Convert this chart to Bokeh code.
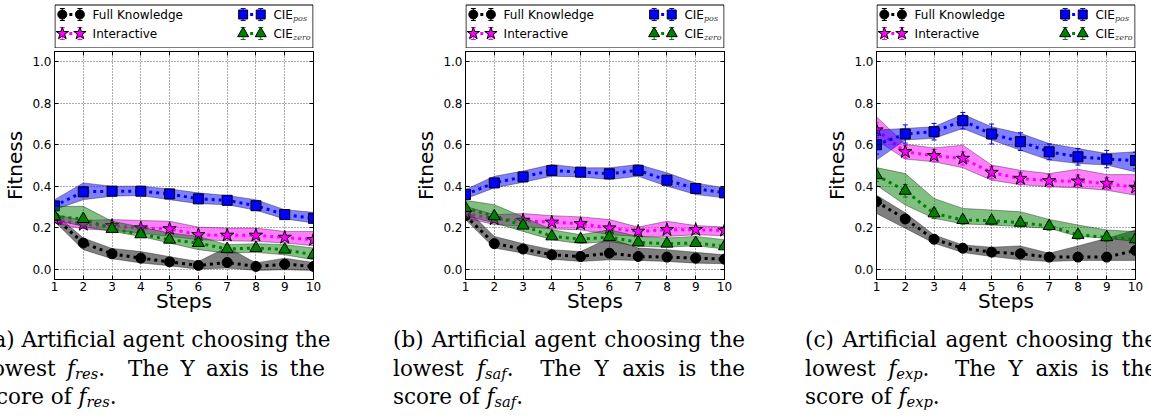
from bokeh.plotting import figure
from bokeh.layouts import row, column
from bokeh.models import (Range1d, FixedTicker, PrintfTickFormatter, LinearAxis,
                          Div, ColumnDataSource)
from bokeh.core.properties import value
from bokeh.embed import file_html
from bokeh.resources import INLINE

# ---------------- data ----------------
steps = [1, 2, 3, 4, 5, 6, 7, 8, 9, 10]
y_ticks = [0.0, 0.2, 0.4, 0.6, 0.8, 1.0]

series_names = ["Full Knowledge", "Interactive", "CIE", "CIE"]
series_subs = ["", "", "pos", "zero"]
series_colors = ["#000000", "#ff00ff", "#0000ff", "#008000"]
series_markers = ["circle", "star", "square", "triangle"]

# (a) lowest f_res
a_full = [0.25, 0.126, 0.074, 0.053, 0.035, 0.018, 0.032, 0.013, 0.024, 0.013]
a_full_lo = [0.23, 0.094, 0.05, 0.03, 0.016, 0.0, 0.005, -0.006, -0.003, -0.006]
a_full_hi = [0.27, 0.15, 0.10, 0.085, 0.06, 0.037, 0.106, 0.03, 0.053, 0.032]
a_int = [0.241, 0.215, 0.21, 0.198, 0.194, 0.166, 0.163, 0.163, 0.153, 0.142]
a_int_lo = [0.223, 0.194, 0.187, 0.174, 0.158, 0.142, 0.137, 0.134, 0.126, 0.113]
a_int_hi = [0.263, 0.235, 0.239, 0.235, 0.231, 0.203, 0.198, 0.198, 0.182, 0.182]
a_pos = [0.305, 0.373, 0.376, 0.376, 0.363, 0.339, 0.332, 0.306, 0.263, 0.245]
a_pos_lo = [0.287, 0.335, 0.352, 0.355, 0.335, 0.316, 0.311, 0.284, 0.242, 0.223]
a_pos_hi = [0.335, 0.416, 0.40, 0.40, 0.387, 0.368, 0.355, 0.335, 0.287, 0.274]
a_zero = [0.254, 0.242, 0.194, 0.168, 0.142, 0.126, 0.097, 0.102, 0.094, 0.069]
a_zero_lo = [0.239, 0.206, 0.182, 0.158, 0.126, 0.094, 0.077, 0.081, 0.069, 0.045]
a_zero_hi = [0.303, 0.303, 0.231, 0.203, 0.174, 0.158, 0.118, 0.123, 0.118, 0.102]

# (b) lowest f_saf
b_full = [0.258, 0.123, 0.097, 0.069, 0.061, 0.077, 0.061, 0.058, 0.053, 0.048]
b_full_lo = [0.239, 0.102, 0.077, 0.048, 0.037, 0.045, 0.042, 0.037, 0.029, 0.026]
b_full_hi = [0.295, 0.158, 0.123, 0.094, 0.085, 0.15, 0.102, 0.094, 0.081, 0.069]
b_int = [0.27, 0.242, 0.235, 0.226, 0.219, 0.198, 0.182, 0.19, 0.19, 0.187]
b_int_lo = [0.247, 0.215, 0.206, 0.194, 0.19, 0.166, 0.158, 0.158, 0.166, 0.161]
b_int_hi = [0.303, 0.263, 0.268, 0.258, 0.252, 0.239, 0.203, 0.231, 0.21, 0.203]
b_pos = [0.36, 0.416, 0.445, 0.476, 0.468, 0.46, 0.477, 0.429, 0.389, 0.368]
b_pos_lo = [0.339, 0.392, 0.419, 0.448, 0.445, 0.432, 0.448, 0.40, 0.36, 0.344]
b_pos_hi = [0.384, 0.448, 0.473, 0.505, 0.489, 0.489, 0.505, 0.465, 0.416, 0.392]
b_zero = [0.295, 0.255, 0.21, 0.158, 0.145, 0.155, 0.129, 0.123, 0.126, 0.11]
b_zero_lo = [0.258, 0.223, 0.182, 0.142, 0.123, 0.134, 0.11, 0.106, 0.113, 0.097]
b_zero_hi = [0.332, 0.311, 0.252, 0.19, 0.166, 0.19, 0.158, 0.15, 0.158, 0.142]

# (c) lowest f_exp
c_full = [0.325, 0.242, 0.144, 0.101, 0.082, 0.074, 0.058, 0.058, 0.058, 0.09]
c_full_lo = [0.269, 0.197, 0.125, 0.08, 0.061, 0.045, 0.037, 0.042, 0.042, 0.042]
c_full_hi = [0.357, 0.272, 0.165, 0.117, 0.106, 0.112, 0.077, 0.112, 0.149, 0.189]
c_full_err = [0.02, 0.02, 0.015, 0.01, 0.01, 0.01, 0.01, 0.01, 0.01, 0.015]
c_int = [0.671, 0.566, 0.547, 0.534, 0.466, 0.437, 0.426, 0.424, 0.413, 0.394]
c_int_lo = [0.623, 0.531, 0.518, 0.489, 0.429, 0.408, 0.397, 0.392, 0.381, 0.356]
c_int_hi = [0.735, 0.602, 0.585, 0.598, 0.502, 0.477, 0.461, 0.482, 0.456, 0.456]
c_int_err = [0.035, 0.03, 0.03, 0.032, 0.03, 0.03, 0.03, 0.03, 0.028, 0.03]
c_pos = [0.60, 0.652, 0.663, 0.716, 0.652, 0.615, 0.566, 0.542, 0.531, 0.524]
c_pos_lo = [0.526, 0.623, 0.631, 0.679, 0.623, 0.574, 0.526, 0.510, 0.502, 0.469]
c_pos_hi = [0.671, 0.679, 0.687, 0.747, 0.687, 0.655, 0.606, 0.582, 0.558, 0.566]
c_pos_err = [0.045, 0.044, 0.04, 0.04, 0.048, 0.043, 0.038, 0.04, 0.042, 0.04]
c_zero = [0.453, 0.378, 0.269, 0.237, 0.234, 0.224, 0.208, 0.165, 0.154, 0.144]
c_zero_lo = [0.405, 0.309, 0.245, 0.218, 0.213, 0.205, 0.197, 0.158, 0.149, 0.133]
c_zero_hi = [0.49, 0.461, 0.341, 0.293, 0.285, 0.277, 0.24, 0.213, 0.189, 0.181]
c_zero_err = [0.03, 0.03, 0.025, 0.02, 0.02, 0.02, 0.02, 0.02, 0.02, 0.02]

captions = [("a", "res"), ("b", "saf"), ("c", "exp")]

panel_data = [
    [(a_full, a_full_lo, a_full_hi, None), (a_int, a_int_lo, a_int_hi, None),
     (a_pos, a_pos_lo, a_pos_hi, None), (a_zero, a_zero_lo, a_zero_hi, None)],
    [(b_full, b_full_lo, b_full_hi, None), (b_int, b_int_lo, b_int_hi, None),
     (b_pos, b_pos_lo, b_pos_hi, None), (b_zero, b_zero_lo, b_zero_hi, None)],
    [(c_full, c_full_lo, c_full_hi, c_full_err), (c_int, c_int_lo, c_int_hi, c_int_err),
     (c_pos, c_pos_lo, c_pos_hi, c_pos_err), (c_zero, c_zero_lo, c_zero_hi, c_zero_err)],
]

# ---------------- layout constants (page has no margin) ----------------
col_widths = [411, 411, 329]
FRAME_L = 48
FRAME_W = 265
LEG_H = 48
PLOT_H = 274
FRAME_TOP = 3
FRAME_H = 228
CAP_H = 94
marker_sizes = [10, 14, 10, 12]
SANS = value("DejaVu Sans")


def make_legend(width):
    L = figure(width=width, height=LEG_H, x_range=Range1d(0, FRAME_W), y_range=Range1d(LEG_H, 0),
               x_axis_type=None, y_axis_type=None, output_backend="svg", toolbar_location=None,
               min_border_left=FRAME_L, min_border_right=width - FRAME_L - FRAME_W,
               min_border_top=0, min_border_bottom=0)
    L.grid.visible = False
    L.outline_line_color = None
    L.background_fill_color = "white"
    L.border_fill_color = "white"
    L.quad(left=0.5, right=FRAME_W - 0.5, top=4.5, bottom=47.5,
           fill_color="white", line_color="black", line_width=1)
    rows_y = [14, 33, 14, 33]
    m1 = [8, 8, 193, 193]
    for i in range(4):
        x0 = m1[i]
        x1 = x0 + 18
        y = rows_y[i]
        c = series_colors[i]
        src = ColumnDataSource(dict(x=[x0, x1], y=[y, y], lo=[y - 6, y - 6], hi=[y + 6, y + 6]))
        L.segment(x0="x", y0="lo", x1="x", y1="hi", source=src, line_color=c, line_width=1)
        L.scatter(x="x", y="lo", source=src, marker="dash", size=5, line_color=c, line_width=1)
        L.scatter(x="x", y="hi", source=src, marker="dash", size=5, line_color=c, line_width=1)
        L.line(x="x", y="y", source=src, line_color=c, line_width=3, line_dash="3 4")
        L.scatter(x="x", y="y", source=src, marker=series_markers[i], size=marker_sizes[i] - 1,
                  fill_color=c, line_color="black", line_width=1)
        tx = x1 + 13
        L.text(x=[tx], y=[y], text=[series_names[i]], text_font=SANS, text_font_size="12px",
               text_baseline="middle", text_align="left", text_color="black")
        if series_subs[i]:
            L.text(x=[tx + 20], y=[y + 4], text=[series_subs[i]], text_font=value("DejaVu Serif"),
                   text_font_style="italic", text_font_size="8px", text_baseline="middle",
                   text_align="left", text_color="#333333")
    return L


def make_plot(width, data):
    p = figure(width=width, height=PLOT_H, x_range=Range1d(1, 10), y_range=Range1d(-0.05, 1.05),
               output_backend="svg", toolbar_location=None,
               min_border_left=FRAME_L, min_border_right=width - FRAME_L - FRAME_W,
               min_border_top=FRAME_TOP, min_border_bottom=PLOT_H - FRAME_TOP - FRAME_H,
               x_axis_label="Steps", y_axis_label="Fitness")
    p.background_fill_color = "white"
    p.border_fill_color = "white"
    p.outline_line_color = "black"
    p.outline_line_width = 1
    p.outline_line_alpha = 1

    p.xaxis.ticker = FixedTicker(ticks=steps)
    p.yaxis.ticker = FixedTicker(ticks=y_ticks)
    p.yaxis.formatter = PrintfTickFormatter(format="%.1f")
    for ax in (p.xaxis, p.yaxis):
        ax.major_tick_in = 4
        ax.major_tick_out = 0
        ax.minor_tick_line_color = None
        ax.axis_line_color = "black"
        ax.major_label_text_font = "DejaVu Sans"
        ax.major_label_text_font_size = "12px"
        ax.major_label_text_color = "black"
        ax.axis_label_text_font = "DejaVu Sans"
        ax.axis_label_text_font_size = "20px"
        ax.axis_label_text_font_style = "normal"
        ax.axis_label_text_color = "black"
    p.xaxis.major_label_standoff = 2
    p.xaxis.axis_label_standoff = -5
    p.yaxis.major_label_standoff = 3
    p.yaxis.axis_label_standoff = 2

    for side, tk in (("above", steps), ("right", y_ticks)):
        ax = LinearAxis(ticker=FixedTicker(ticks=tk), major_tick_in=4, major_tick_out=0,
                        minor_tick_line_color=None, major_label_text_font_size="0px",
                        major_label_text_color=None, major_label_standoff=0,
                        axis_line_color="black")
        p.add_layout(ax, side)

    for g in p.grid:
        g.grid_line_color = "#333333"
        g.grid_line_alpha = 0.8
        g.grid_line_dash = "1 2"
        g.grid_line_width = 1
    p.xgrid.ticker = FixedTicker(ticks=steps)
    p.ygrid.ticker = FixedTicker(ticks=y_ticks)

    for i, (mean, lo, hi, err) in enumerate(data):
        c = series_colors[i]
        d = dict(x=steps, y=mean, lo=lo, hi=hi)
        if err is not None:
            d["elo"] = [m - e for m, e in zip(mean, err)]
            d["ehi"] = [m + e for m, e in zip(mean, err)]
        src = ColumnDataSource(d)
        p.varea(x="x", y1="lo", y2="hi", source=src, fill_color=c, fill_alpha=0.5)
        p.line(x="x", y="lo", source=src, line_color="#000000", line_alpha=0.35, line_width=1)
        p.line(x="x", y="hi", source=src, line_color="#000000", line_alpha=0.35, line_width=1)
        if err is not None:
            p.segment(x0="x", y0="elo", x1="x", y1="ehi", source=src, line_color=c, line_width=1)
            p.scatter(x="x", y="elo", source=src, marker="dash", size=5, line_color=c, line_width=1)
            p.scatter(x="x", y="ehi", source=src, marker="dash", size=5, line_color=c, line_width=1)
        p.line(x="x", y="y", source=src, line_color=c, line_width=3, line_dash="3 4")
        p.scatter(x="x", y="y", source=src, marker=series_markers[i], size=marker_sizes[i],
                  fill_color=c, line_color="black", line_width=1)
    return p


cols = []
for k in range(3):
    cols.append(column(make_legend(col_widths[k]), make_plot(col_widths[k], panel_data[k]),
                       spacing=0))

cap_lefts = [-15, 393, 805]
cap_widths = [340, 352, 352]
fs = "font-size:0.68em;font-style:italic;vertical-align:-0.22em;line-height:0;"
parts = []
for (letter, sub), left, w in zip(captions, cap_lefts, cap_widths):
    fsub = '<i>f</i><span style="%s">%s</span>' % (fs, sub)
    parts.append(
        '<div style="position:absolute;left:%dpx;top:4px;width:%dpx;">' % (left, w)
        + '<div style="text-align:justify;text-align-last:justify;white-space:nowrap;">(%s) Artificial agent choosing the</div>' % letter
        + '<div style="text-align:justify;text-align-last:justify;">lowest %s.&nbsp; The Y axis is the</div>' % fsub
        + '<div>score of %s.</div>' % fsub
        + '</div>')
html = ('<div style="position:relative;width:1151px;height:%dpx;overflow:hidden;'
        "font-family:'DejaVu Serif';font-size:21.5px;line-height:28.5px;color:#000;\">" % CAP_H
        + "".join(parts) + '</div>')
cap = Div(text=html, width=1151, height=CAP_H, margin=(0, 0, 0, 0))

layout = column(row(*cols, spacing=0), cap, spacing=0)

open("out.html", "w").write(file_html(layout, INLINE))
